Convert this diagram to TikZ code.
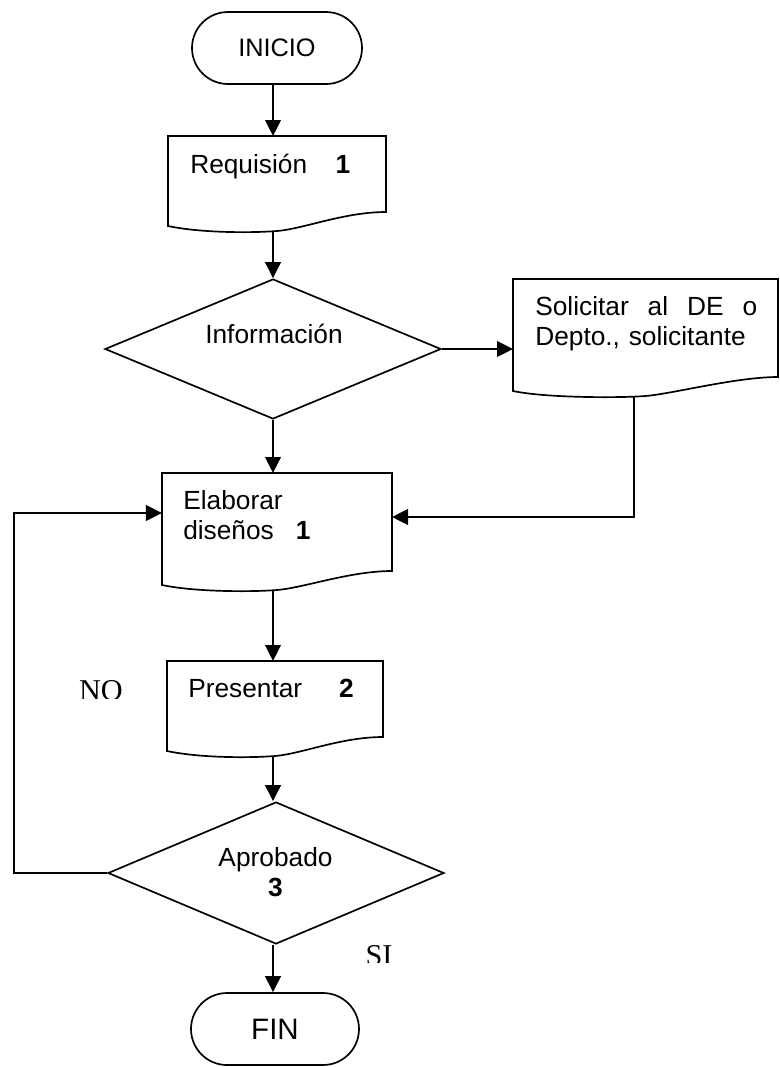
\documentclass[tikz,border=0pt]{standalone}
\usepackage{fontspec}
\setmainfont{Liberation Sans}
\newfontfamily\serifo{Liberation Serif}
\usepackage{tikz}
\usetikzlibrary{shapes.geometric,arrows.meta,calc}

\begin{document}
\begin{tikzpicture}[x=0.25mm, y=-0.25mm,
    texto/.style={inner sep=0pt, font=\fontsize{18.7}{21.6}\selectfont},
    terminal/.style={draw, line width=1.2pt, rounded corners=9mm, minimum height=18mm, inner sep=0pt},
    hoja/.style={rectangle, inner sep=0pt, outer sep=0pt},
    rombo/.style={diamond, draw, line width=1.2pt, minimum width=84mm, inner sep=0pt},
    flecha/.style={line width=1.5pt, -{Triangle[length=4mm, width=3.9mm]}}]
    \useasboundingbox (0, 0) rectangle (779, 1067);

    % Inicio y fin
    \node[terminal, minimum width=42.5mm, font=\fontsize{18}{21}\selectfont] (inicio) at (277, 48) {INICIO};
    \node[terminal, minimum width=42mm, font=\fontsize{21}{24}\selectfont] (fin) at (275, 1029) {FIN};

    % Documentos
    \node[hoja, minimum width=54.5mm, minimum height=23.75mm] (req) at (277, 183.5) {};
    \node[hoja, minimum width=66.25mm, minimum height=29.25mm] (soli) at (645.5, 337.5) {};
    \node[hoja, minimum width=57.5mm, minimum height=29.25mm] (elab) at (277, 531.5) {};
    \node[hoja, minimum width=54mm, minimum height=23.75mm] (pres) at (275, 708.5) {};
    \foreach \n in {req, soli, elab, pres} {
        \draw[line width=1.2pt] (\n.south) .. controls +(-26, 2) and +(33, 7) .. ($(\n.south west)+(0, -5)$)
            -- (\n.north west) -- (\n.north east) -- ($(\n.south east)+(0, -19)$)
            .. controls +(-42, 0) and +(26, -2) .. (\n.south);
    }
    \node[texto, anchor=base west] (req-txt) at (190, 173) {Requisión\hspace*{7.1mm}\textbf{1}};
    \node[texto, anchor=base west, text width=55.5mm, align=left] (soli-txt) at (535, 315)
        {Solicitar\hfill al\hfill DE\hfill o\\Depto., solicitante};
    \node[texto, anchor=base west, text width=40mm, align=left] (elab-txt) at (183, 509)
        {Elaborar\\diseños\hspace*{5.5mm}\textbf{1}};
    \node[texto, anchor=base west] (pres-txt) at (188, 697) {Presentar\hspace*{9.2mm}\textbf{2}};

    % Decisiones
    \node[rombo, minimum height=35mm] (info) at (273, 349) {};
    \node[texto, anchor=base west] (info-txt) at (205, 343) {Información};
    \node[rombo, minimum height=35.5mm] (aprob) at (276, 873) {};
    \node[texto, anchor=base, text width=40mm, align=center] (aprob-txt) at (275.5, 866) {Aprobado\\\textbf{3}};

    % Etiquetas NO / SI
    \begin{scope}
        \clip (50, 660) rectangle (150, 698);
        \node[inner sep=0pt, anchor=base, font=\serifo\fontsize{21.5}{24}\selectfont] (no) at (101, 700) {NO};
    \end{scope}
    \begin{scope}
        \clip (340, 930) rectangle (420, 962);
        \node[inner sep=0pt, anchor=base, font=\serifo\fontsize{21.5}{24}\selectfont] (si) at (379, 965) {SI};
    \end{scope}

    % Flujo principal
    \foreach \a/\b in {inicio/req, req/info, info/elab, elab/pres, pres/aprob, aprob/fin} {
        \draw[flecha] (\a.south -| info) -- (\b.north -| info);
    }
    \draw[flecha] (info.east) -- (info.east -| soli.west);

    % Retornos
    \coordinate (vuelta) at (634, 517);
    \draw[flecha] (vuelta |- soli.south) -- (vuelta) -- (vuelta -| elab.east);
    \coordinate (retorno) at (14, 513);
    \draw[flecha] (aprob.west) -- (aprob.west -| retorno) -- (retorno) -- (retorno -| elab.west);
\end{tikzpicture}
\end{document}
